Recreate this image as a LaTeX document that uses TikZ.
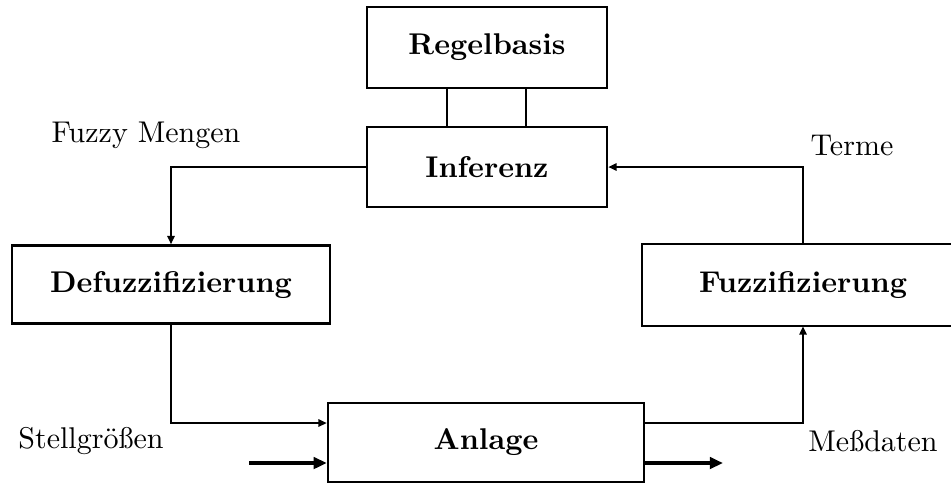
\documentclass[tikz,border=0pt]{standalone}
\usetikzlibrary{arrows.meta}
\begin{document}
\begin{tikzpicture}[x=0.3333pt,y=-0.3333pt,
  block/.style={draw,line width=0.8pt,rectangle,inner sep=0pt,font=\bfseries},
  flow/.style={line width=0.8pt,-{Triangle[length=2.8pt,width=2.4pt]}},
  io/.style={line width=1.4pt,-{Triangle[length=4.4pt,width=3.8pt]}},
  tag/.style={inner sep=0pt}]
\useasboundingbox (0,0) rectangle (951,485);
% blocks
\node[block,minimum width=80pt,minimum height=27pt] (regel) at (487,47.5) {Regelbasis};
\node[block,minimum width=80pt,minimum height=26.7pt] (inf) at (487,167) {Inferenz};
\node[block,minimum width=106pt,minimum height=26pt] (defuzz) at (171,284.5) {Defuzzifizierung};
% the fuzzification block runs past the right margin, so only three sides are stroked
\node[block,draw=none,minimum width=106.7pt,minimum height=26.7pt] (fuzz) at (803,285) {Fuzzifizierung};
\draw[line width=0.8pt] (fuzz.north east) -- (fuzz.north west) -- (fuzz.south west) -- (fuzz.south east);
\node[block,minimum width=105.3pt,minimum height=26.3pt] (anlage) at (486,442.5) {Anlage};
% links between rule base and inference
\draw[line width=0.8pt] (regel.south -| 447,0) -- (inf.north -| 447,0);
\draw[line width=0.8pt] (regel.south -| 526,0) -- (inf.north -| 526,0);
% control loop
\draw[flow] (inf.west) -| (defuzz.north);
\draw[flow] (fuzz.north) |- (inf.east);
\coordinate (inA) at (anlage.west |- 0,423);
\coordinate (outA) at (anlage.east |- 0,423);
\draw[flow] (defuzz.south) |- (inA);
\draw[flow] (outA) -| (fuzz.south);
% plant input and output
\coordinate (uin) at (249,463);
\coordinate (yout) at (723,463);
\draw[io] (uin) -- (uin -| anlage.west);
\draw[io] (yout -| anlage.east) -- (yout);
% labels
\node[tag] (lfm) at (146,135) {Fuzzy Mengen};
\node[tag] (lterme) at (852,145) {Terme};
\node[tag] (lstell) at (91,441) {Stellgrößen};
\node[tag] (lmess) at (873,441) {Meßdaten};
\end{tikzpicture}
\end{document}
